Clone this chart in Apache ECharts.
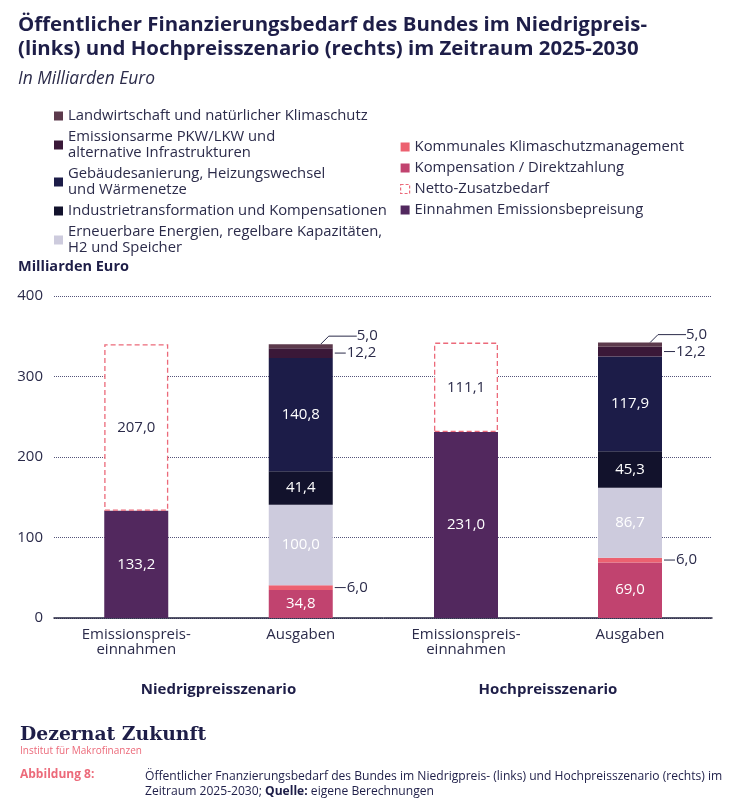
<!DOCTYPE html>
<html>
<head>
<meta charset="utf-8">
<script src="https://cdn.jsdelivr.net/npm/echarts@6/dist/echarts.min.js"></script>
<style>html,body{margin:0;padding:0;background:#fff}#c{width:742px;height:808px}</style>
</head>
<body>
<div id="c"></div>
<script>
// ---- data ----
const categories = ['Emissionspreis-\neinnahmen', 'Ausgaben'];
const scenarios = ['Niedrigpreisszenario', 'Hochpreisszenario'];
const yTicks = [0, 100, 200, 300, 400];
// values per scenario: [low, high], each [Einnahmen-category, Ausgaben-category]
const einnahmen      = [[133.2, null], [231.0, null]];
const netto          = [[207.0, null], [111.1, null]];
const kompensation   = [[null, 34.8], [null, 69.0]];
const kommunales     = [[null, 6.0], [null, 6.0]];
const erneuerbare    = [[null, 100.0], [null, 86.7]];
const industrie      = [[null, 41.4], [null, 45.3]];
const gebaeude       = [[null, 140.8], [null, 117.9]];
const emissionsarme  = [[null, 12.2], [null, 12.2]];
const landwirtschaft = [[null, 5.0], [null, 5.0]];

const names = {
  landwirtschaft: 'Landwirtschaft und natürlicher Klimaschutz',
  emissionsarme: 'Emissionsarme PKW/LKW und\nalternative Infrastrukturen',
  gebaeude: 'Gebäudesanierung, Heizungswechsel\nund Wärmenetze',
  industrie: 'Industrietransformation und Kompensationen',
  erneuerbare: 'Erneuerbare Energien, regelbare Kapazitäten,\nH2 und Speicher',
  kommunales: 'Kommunales Klimaschutzmanagement',
  kompensation: 'Kompensation / Direktzahlung',
  netto: 'Netto-Zusatzbedarf',
  einnahmen: 'Einnahmen Emissionsbepreisung'
};
const colors = {
  einnahmen: '#52285e',
  netto: '#ffffff',
  kompensation: '#c1436f',
  kommunales: '#ec6170',
  erneuerbare: '#cdcbdd',
  industrie: '#12122c',
  gebaeude: '#1c1c48',
  emissionsarme: '#3a1838',
  landwirtschaft: '#5c3a4c'
};
const dataMap = {einnahmen, netto, kompensation, kommunales, erneuerbare, industrie, gebaeude, emissionsarme, landwirtschaft};
const order = ['einnahmen','netto','kompensation','kommunales','erneuerbare','industrie','gebaeude','emissionsarme','landwirtschaft'];

const TXT = '#2b2b4a';
const FONT = 'Open Sans';
const FS = 15;
const fmt = v => v.toFixed(1).replace('.', ',');

function labelFor(key) {
  const base = {show: true, fontFamily: FONT, fontSize: FS, formatter: p => p.value == null ? '' : fmt(p.value)};
  const lead = (w) => ({
    position: 'right', distance: 2, color: TXT,
    formatter: p => p.value == null ? '' : '{l|}{v|' + fmt(p.value) + '}',
    rich: {
      l: {width: w, height: 1, backgroundColor: TXT},
      v: {fontFamily: FONT, fontSize: FS, color: TXT, padding: [0, 0, 0, 1]}
    }
  });
  if (key === 'kommunales') return Object.assign(base, lead(11));
  if (key === 'emissionsarme') return Object.assign(base, lead(11));
  if (key === 'landwirtschaft') return Object.assign(base, {position: 'right', distance: 24, color: TXT});
  if (key === 'netto') return Object.assign(base, {position: 'inside', color: TXT});
  return Object.assign(base, {position: 'inside', color: '#ffffff'});
}

const series = [];
for (let g = 0; g < 2; g++) {
  order.forEach(key => {
    const s = {
      type: 'bar',
      name: names[key],
      xAxisIndex: g, yAxisIndex: g,
      stack: 'total' + g,
      barWidth: 64,
      data: dataMap[key][g],
      label: labelFor(key),
      itemStyle: key === 'netto'
        ? {color: '#ffffff', borderColor: '#ec6a7a', borderWidth: 1.3, borderType: [5, 3]}
        : {color: colors[key]},
      emphasis: {disabled: true}
    };
    if (key === 'landwirtschaft') {
      s.labelLayout = {dy: -10};
      s.labelLine = {show: true, length2: 36, minTurnAngle: 135, lineStyle: {color: TXT, width: 1}};
    }
    series.push(s);
  });
}

const grids = [
  {left: 54, width: 329, top: 296, height: 322},
  {left: 384, width: 328, top: 296, height: 322}
];

const xAxes = scenarios.map((sc, i) => ({
  type: 'category', gridIndex: i, data: categories,
  axisLine: {lineStyle: {color: '#23233f', width: 1.5}},
  axisTick: {show: false},
  axisLabel: {color: TXT, fontFamily: FONT, fontSize: FS, lineHeight: 15, margin: 9},
  name: sc, nameLocation: 'middle', nameGap: 64,
  nameTextStyle: {color: '#1e1e48', fontFamily: FONT, fontSize: 15, fontWeight: 'bold'}
}));
const yAxes = [0, 1].map(i => ({
  type: 'value', gridIndex: i, min: yTicks[0], max: yTicks[yTicks.length - 1], interval: 100,
  axisLine: {show: false}, axisTick: {show: false},
  axisLabel: {show: i === 0, color: TXT, fontFamily: FONT, fontSize: FS, margin: 11},
  splitLine: {lineStyle: {color: '#55557a', type: [1, 1], width: 1}}
}));

const legendText = {color: TXT, fontFamily: FONT, fontSize: 14.8, lineHeight: 16};
const option = {
  animation: false,
  textStyle: {fontFamily: FONT},
  title: [
    {text: 'Öffentlicher Finanzierungsbedarf des Bundes im Niedrigpreis-\n(links) und Hochpreisszenario (rechts) im Zeitraum 2025-2030',
     left: 18, top: 13, padding: 0,
     textStyle: {color: '#1e1e48', fontFamily: FONT, fontSize: 20.4, fontWeight: 'bold', lineHeight: 24}},
    {text: 'In Milliarden Euro', left: 18, top: 71, padding: 0,
     textStyle: {color: '#2b2b4a', fontFamily: FONT, fontSize: 17.4, fontStyle: 'italic', fontWeight: 'normal'}},
    {text: 'Milliarden Euro', left: 18, top: 259, padding: 0,
     textStyle: {color: '#1e1e48', fontFamily: FONT, fontSize: 14.5, fontWeight: 'bold'}},
    {text: 'Dezernat Zukunft', left: 20, top: 726, padding: 0,
     textStyle: {color: '#1e1e48', fontFamily: 'DejaVu Serif', fontSize: 18.8, fontWeight: 'bold'}},
    {text: 'Institut für Makrofinanzen', left: 20, top: 746, padding: 0,
     textStyle: {color: '#ec6a7a', fontFamily: FONT, fontSize: 10, fontWeight: 'normal'}},
    {text: 'Abbildung 8:', left: 20, top: 769, padding: 0,
     textStyle: {color: '#ec6a7a', fontFamily: FONT, fontSize: 12, fontWeight: 'bold'}},
    {text: 'Öffentlicher Fnanzierungsbedarf des Bundes im Niedrigpreis- (links) und Hochpreisszenario (rechts) im\nZeitraum 2025-2030; {b|Quelle:} eigene Berechnungen',
     left: 145, top: 769, padding: 0,
     textStyle: {color: '#1e1e48', fontFamily: FONT, fontSize: 12.1, fontWeight: 'normal', lineHeight: 15,
       rich: {b: {fontWeight: 'bold', fontFamily: FONT, fontSize: 12.1, color: '#1e1e48'}}}}
  ],
  legend: [
    {orient: 'vertical', left: 54, top: 108, padding: 0, itemWidth: 9, itemHeight: 9, itemGap: 5, icon: 'rect',
     selectedMode: false, textStyle: legendText,
     data: [names.landwirtschaft, names.emissionsarme, names.gebaeude, names.industrie, names.erneuerbare]},
    {orient: 'vertical', left: 400, top: 139, padding: 0, itemWidth: 9, itemHeight: 9, itemGap: 5, icon: 'rect',
     selectedMode: false, textStyle: legendText,
     data: [names.kommunales, names.kompensation,
       {name: names.netto, itemStyle: {color: '#ffffff', borderColor: '#ec6a7a', borderWidth: 1.2, borderType: [3, 2]}},
       names.einnahmen]}
  ],
  grid: grids,
  xAxis: xAxes,
  yAxis: yAxes,
  series: series
};

const chart = echarts.init(document.getElementById('c'), null, {renderer: 'canvas'});
chart.setOption(option);
</script>
</body>
</html>
